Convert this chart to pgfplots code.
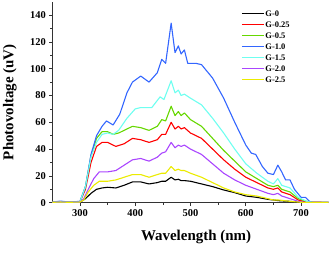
\documentclass[border=0pt]{standalone}
\usepackage{pgfplots}
\pgfplotsset{compat=1.18}
\usepackage{fontspec}
\setmainfont{Liberation Serif}
\definecolor{cgreen}{RGB}{102,215,0}
\definecolor{cblue}{RGB}{51,102,255}
\definecolor{ccyan}{RGB}{110,255,240}
\definecolor{cpurple}{RGB}{170,70,255}
\definecolor{cyellow}{RGB}{235,235,0}
\begin{document}
\begin{tikzpicture}
\begin{axis}[
  scale only axis,
  width=276.4bp, height=201bp,
  xmin=250, xmax=750, ymin=0, ymax=150,
  xtick={300,400,500,600,700},
  ytick={0,20,40,60,80,100,120,140},
  minor x tick num=1, minor y tick num=1,
  tick align=outside,
  major tick length=3bp, minor tick length=2bp,
  axis x line*=bottom, axis y line*=left,
  axis line style={line width=0.7bp, black!80},
  every tick/.style={black!80, line width=0.6bp},
  /pgf/number format/assume math mode=true,
  tick label style={font=\fontsize{10.5}{12}\selectfont\bfseries},
  xlabel={Wavelength (nm)},
  ylabel={Photovoltage (uV)},
  label style={font=\fontsize{15}{17}\selectfont\bfseries},
  xlabel style={at={(axis description cs:0.52,0)}, anchor=north, yshift=-24bp},
  ylabel style={at={(axis description cs:0,0.5)}, anchor=south, yshift=32bp},
  legend cell align=left,
  legend style={draw=none, fill=none, at={(axis description cs:0.672,0.979)}, anchor=north west,
    font=\fontsize{8.5}{10}\selectfont\bfseries,
    nodes={inner sep=1bp, text height=7bp, text depth=2bp}},
  legend image code/.code={\draw[#1, line width=1.2bp] (0bp,0bp) -- (22bp,0bp);},
  every axis plot/.append style={line width=1.1bp, line join=round},
]
\coordinate (sw) at (rel axis cs:0,0);
\coordinate (ne) at (rel axis cs:1,1);
% G-0
\addplot[black] coordinates {(250,0.3)(265,0.5)(280,0.3)(300,0.3)(310,3)(320,7)(330,10)(340,11)(350,11.5)(365,11)(380,13)(395,15.5)(410,15.5)(425,14)(440,15)(448,16)(455,16)(465,19)(472,17)(478,17.5)(483,16.5)(489,16.5)(500,16)(520,14)(540,12)(560,9.5)(580,7.5)(600,5)(620,4)(640,2.5)(650,2)(660,1.5)(680,1)(700,0.3)(750,0.2)};
% G-0.25
\addplot[red] coordinates {(250,0.3)(265,0.5)(280,0.3)(300,0.5)(310,10)(320,30)(330,42)(340,45)(350,45)(365,42)(380,44)(395,48)(410,47)(425,45)(440,47)(448,51)(455,51)(465,60)(472,55)(478,57)(483,55)(489,56)(500,52)(520,48)(540,40)(560,32)(580,25)(600,19)(620,15)(640,11)(650,10)(658,11)(665,8)(680,6)(695,2)(710,0.5)(750,0.2)};
% G-0.5
\addplot[cgreen] coordinates {(250,0.3)(265,0.5)(280,0.3)(300,0.5)(310,12)(320,35)(330,48)(340,53)(350,53)(360,51)(370,52)(385,55)(395,57)(410,56)(425,54)(440,57)(448,62)(455,61)(465,72)(472,65)(478,68)(483,65)(489,67)(500,62)(520,57)(540,48)(560,39)(580,31)(600,23)(620,18)(640,13)(650,12)(658,13)(665,10)(680,8)(695,3)(710,1)(720,0.3)(750,0.2)};
% G-1.0
\addplot[cblue] coordinates {(250,0.5)(265,1.2)(280,0.5)(300,1)(310,12)(320,36)(330,50)(340,57)(348,61)(360,58)(372,66)(385,82)(395,90)(410,94.5)(425,90)(440,97)(448,107)(455,104)(465,134)(472,112)(478,117)(483,111)(489,114)(495,104)(510,104)(520,103)(540,93)(560,78)(580,60)(600,43)(610,37)(618,36)(630,27)(640,22)(650,21)(658,28)(665,23)(672,17)(680,17)(688,10)(700,4)(708,4)(715,1)(720,0.3)(750,0.2)};
% G-1.5
\addplot[ccyan] coordinates {(250,0.3)(265,0.5)(280,0.3)(300,0.5)(310,12)(320,34)(330,45)(340,51)(350,52)(360,51)(370,54)(385,63)(400,70)(410,71)(430,71)(445,79)(452,77)(465,91)(472,82)(478,84)(483,80)(489,81)(500,78)(520,73)(540,63)(560,52)(580,40)(600,29)(620,22)(640,16)(650,14)(658,18)(665,13)(680,11)(695,4)(710,1)(720,0.3)(750,0.2)};
% G-2.0
\addplot[cpurple] coordinates {(250,0.3)(265,0.5)(280,0.3)(300,0.5)(307,3)(315,10)(325,18)(335,23)(350,23)(365,24)(380,28)(395,32)(410,33)(425,31)(440,34)(448,37)(455,38)(465,45)(472,41)(478,43)(483,42)(489,43)(500,40)(520,36)(540,29)(560,22)(580,17)(600,13)(620,10)(640,7)(650,6)(658,7)(665,5)(680,3)(695,1)(705,0.3)(750,0.2)};
% G-2.5
\addplot[cyellow] coordinates {(250,0.3)(265,0.5)(280,0.3)(300,0.5)(307,2)(315,8)(325,13)(335,16)(350,16)(365,17)(380,19)(395,21)(410,21)(425,19)(440,21)(448,22)(455,22)(465,27)(472,24)(478,25)(483,24)(489,24)(500,22)(520,19)(540,15)(560,11)(580,8)(600,6)(620,5)(640,3)(650,2)(660,2)(680,1)(700,0.3)(750,0.2)};
\legend{G-0,G-0.25,G-0.5,G-1.0,G-1.5,G-2.0,G-2.5}
\end{axis}
\pgfresetboundingbox
\path ([xshift=-52.3bp,yshift=-50.3bp]sw) rectangle ([xshift=2.3bp,yshift=1.7bp]ne);
\end{tikzpicture}
\end{document}
